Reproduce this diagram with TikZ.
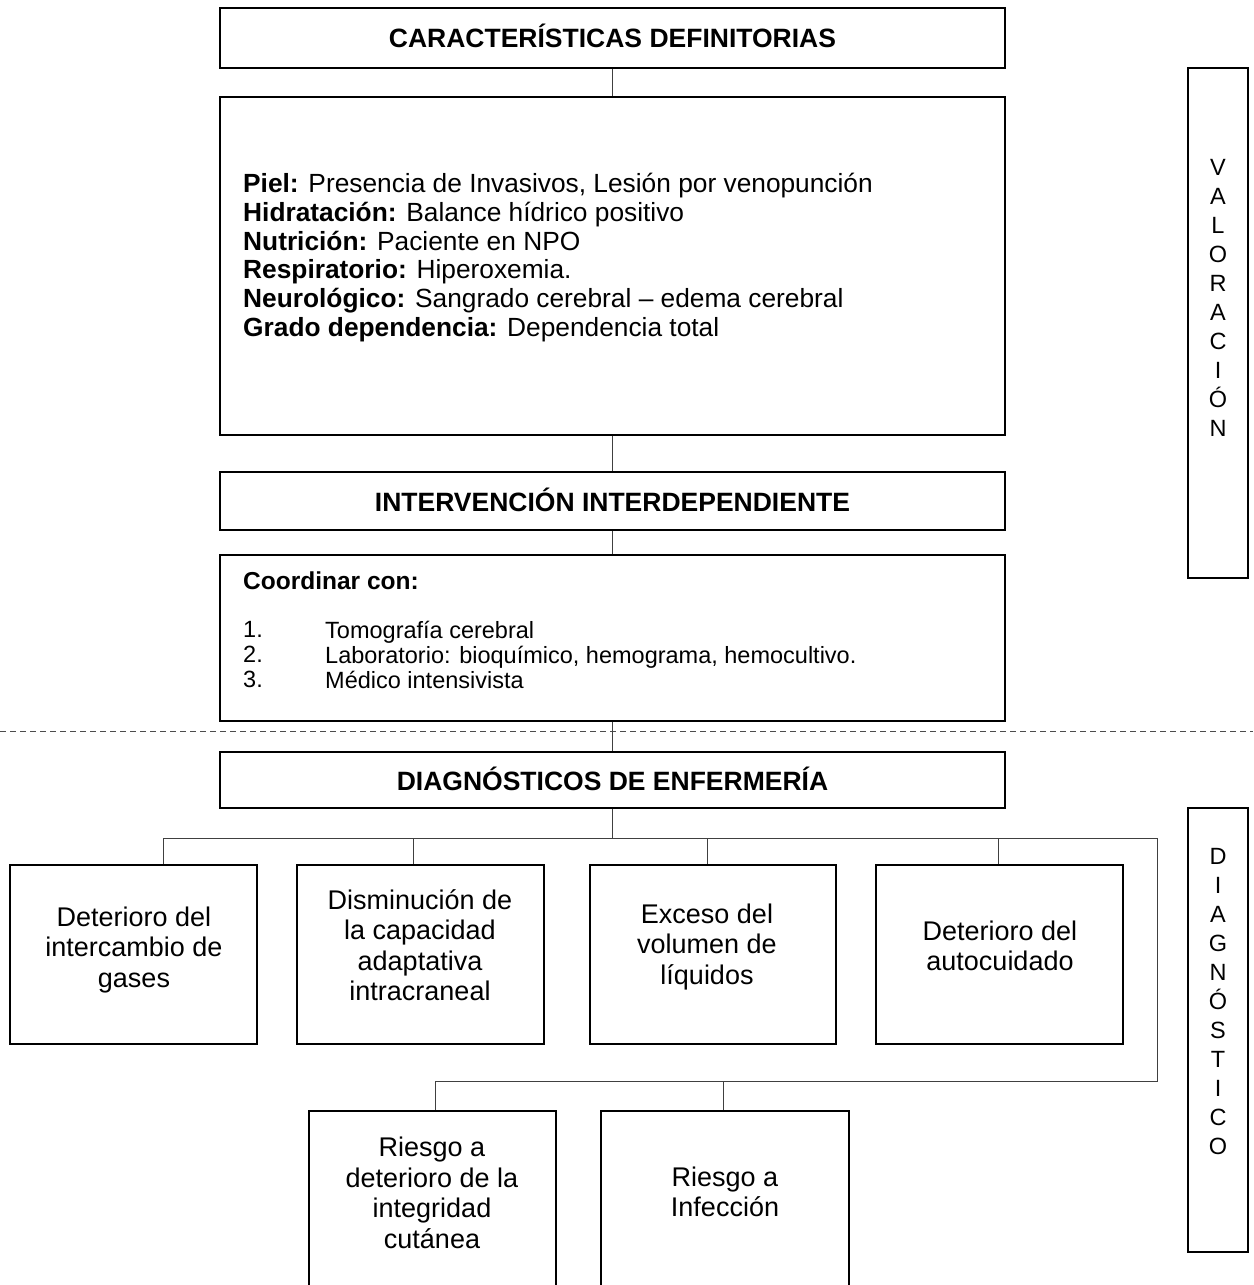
\documentclass[tikz,border=0pt]{standalone}
\usepackage{fontspec}
\setmainfont{Liberation Sans}
\begin{document}
\begin{tikzpicture}[x=1pt,y=-1pt,
  box/.style={draw=black, line width=1.6pt, inner sep=0pt, align=center},
  conn/.style={draw=black!75, line width=0.9pt},
  title/.style={font=\fontsize{26.5}{30}\selectfont\bfseries},
  body/.style={font=\fontsize{26.3}{28.8}\selectfont, align=left, anchor=north west, inner sep=0pt},
  items/.style={font=\fontsize{23.5}{25}\selectfont, align=left, anchor=north west, inner sep=0pt},
  dx/.style={font=\fontsize{27}{30.5}\selectfont, align=center, inner sep=0pt},
  vert/.style={font=\fontsize{23.5}{29}\selectfont, align=center, inner sep=0pt}]
\useasboundingbox (0,0) rectangle (1253,1285);
\clip (0,0) rectangle (1253,1285);
% main column
\node[box, minimum width=785, minimum height=60] (b1) at (612.5,38) {};
\node[title] (t1) at (612.5,36) {CARACTERÍSTICAS DEFINITORIAS};
\node[box, minimum width=785, minimum height=338] (b2) at (612.5,266) {};
\node[body] (t2) at (243,173) {\textbf{Piel:} Presencia de Invasivos, Lesión por venopunción\\
\textbf{Hidratación:} Balance hídrico positivo\\
\textbf{Nutrición:} Paciente en NPO\\
\textbf{Respiratorio:} Hiperoxemia.\\
\textbf{Neurológico:} Sangrado cerebral – edema cerebral\\
\textbf{Grado dependencia:} Dependencia total};
\node[box, minimum width=785, minimum height=58] (b3) at (612.5,501) {};
\node[title] (t3) at (612.5,500) {INTERVENCIÓN INTERDEPENDIENTE};
\node[box, minimum width=785, minimum height=166] (b4) at (612.5,638) {};
\node[items, font=\fontsize{24.5}{25}\selectfont] (t4a) at (243,572) {\textbf{Coordinar con:}};
\node[items] (t4b) at (243,621) {1.\\2.\\3.};
\node[items] (t4c) at (325,621) {Tomografía cerebral\\Laboratorio: bioquímico, hemograma, hemocultivo.\\Médico intensivista};
\node[box, minimum width=785, minimum height=56] (b5) at (612.5,780) {};
\node[title] (t5) at (612.5,779) {DIAGNÓSTICOS DE ENFERMERÍA};
% dashed separator
\coordinate (dl) at (0,731);
\coordinate (dr) at (1253,731);
\draw[draw=black!70, line width=0.9pt, dash pattern=on 6pt off 4pt] (dl) -- (dr);
% connectors main column
\draw[conn] (b1.south) -- (b2.north);
\draw[conn] (b2.south) -- (b3.north);
\draw[conn] (b3.south) -- (b4.north);
\draw[conn] (b4.south) -- (b5.north);
% diagnosis boxes
\node[box, minimum width=247, minimum height=179] (dA) at (133.5,954.5) {};
\node[box, minimum width=247, minimum height=179] (dB) at (420.5,954.5) {};
\node[box, minimum width=246, minimum height=179] (dC) at (713,954.5) {};
\node[box, minimum width=247, minimum height=179] (dD) at (999.5,954.5) {};
\node[dx] (tA) at (134,950) {Deterioro del\\intercambio de\\gases};
\node[dx] (tB) at (420,945) {Disminución de\\la capacidad\\adaptativa\\intracraneal};
\node[dx] (tC) at (707,947) {Exceso del\\volumen de\\líquidos};
\node[dx] (tD) at (1000,946) {Deterioro del\\autocuidado};
\node[box, minimum width=247, minimum height=200, anchor=north] (dE) at (432.5,1110) {};
\node[box, minimum width=248, minimum height=200, anchor=north] (dF) at (725,1110) {};
\node[dx] (tE) at (432,1193) {Riesgo a\\deterioro de la\\integridad\\cutánea};
\node[dx] (tF) at (725,1192) {Riesgo a\\Infección};
% bus connectors
\coordinate (busL) at (163,838);
\coordinate (busR) at (1157,838);
\coordinate (bus2R) at (1157,1081);
\coordinate (bus2L) at (435,1081);
\draw[conn] (b5.south) -- (b5.south |- busL);
\draw[conn] (busL) -- (busR) -- (bus2R) -- (bus2L);
\draw[conn] (busL) -- (busL |- dA.north);
\draw[conn] (413,838) -- (413,0 |- dB.north);
\draw[conn] (707,838) -- (707,0 |- dC.north);
\draw[conn] (998,838) -- (998,0 |- dD.north);
\draw[conn] (bus2L) -- (bus2L |- dE.north);
\draw[conn] (723,1081) -- (723,0 |- dF.north);
% side labels
\node[box, minimum width=60, minimum height=510] (vb) at (1218,323) {};
\node[vert] (vt) at (1218,298) {V\\A\\L\\O\\R\\A\\C\\I\\Ó\\N};
\node[box, minimum width=60, minimum height=444] (db) at (1218,1030) {};
\node[vert] (dt) at (1218,1002) {D\\I\\A\\G\\N\\Ó\\S\\T\\I\\C\\O};
\end{tikzpicture}
\end{document}
